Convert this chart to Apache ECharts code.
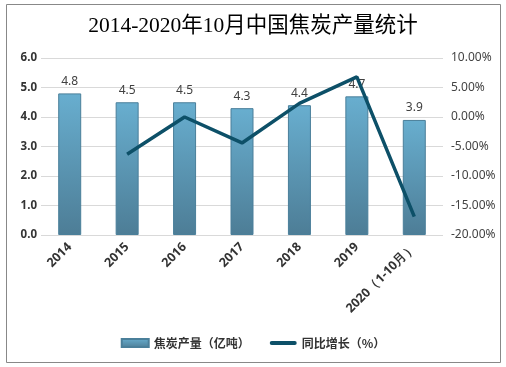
<!DOCTYPE html>
<html><head><meta charset="utf-8">
<script src="https://cdn.jsdelivr.net/npm/echarts@6/dist/echarts.min.js"></script>
<style>html,body{margin:0;padding:0;background:#fff}#c{width:506px;height:367px}</style>
</head><body><div id="c"></div>
<script>
var categories = ['2014','2015','2016','2017','2018','2019','2020（1-10月）'];
var production = [4.8, 4.5, 4.5, 4.3, 4.4, 4.7, 3.9];
var growth = [null, -6.3, 0.0, -4.4, 2.3, 6.8, -16.9];
var leftTicks = ['0.0','1.0','2.0','3.0','4.0','5.0','6.0'];

var chart = echarts.init(document.getElementById('c'));
chart.setOption({
  animation: false,
  backgroundColor: '#fff',
  title: {
    text: '2014-2020年10月中国焦炭产量统计',
    left: 'center', top: 11,
    textStyle: { fontFamily: '"Liberation Serif","Noto Sans CJK SC",serif', fontSize: 21.5, fontWeight: 'normal', color: '#000' }
  },
  graphic: [{ type: 'rect', shape: { x: 6.5, y: 4.5, width: 494, height: 358 }, style: { fill: 'none', stroke: '#888', lineWidth: 1 }, silent: true }],
  grid: { left: 41, right: 63, top: 58, bottom: 132 },
  legend: {
    bottom: 13, left: 'center', itemWidth: 27, itemHeight: 8, itemGap: 20,
    textStyle: { fontFamily: '"Noto Sans CJK SC",sans-serif', fontSize: 12, fontWeight: 'bold', color: '#333' },
    data: [
      { name: '焦炭产量（亿吨）', icon: 'rect' },
      { name: '同比增长（%）', icon: 'path://M0,4 L0,4 Q0,2 2,2 L25,2 Q27,2 27,4 Q27,6 25,6 L2,6 Q0,6 0,4 Z' }
    ]
  },
  xAxis: {
    type: 'category', data: categories,
    axisLine: { show: false }, axisTick: { show: false },
    axisLabel: { rotate: 45, interval: 0, margin: 10, fontFamily: '"Noto Sans","DejaVu Sans",sans-serif', fontSize: 12.5, fontWeight: 'bold', color: '#333' }
  },
  yAxis: [{
    type: 'value', min: 0, max: 6, interval: 1,
    axisLabel: { formatter: function(v){ return leftTicks[Math.round(v)]; }, fontFamily: '"Noto Sans","DejaVu Sans",sans-serif', fontSize: 11.5, fontWeight: 'bold', color: '#333', margin: 4 },
    splitLine: { lineStyle: { color: '#d9d9d9', width: 1 } },
    axisLine: { show: false }, axisTick: { show: false }
  }, {
    type: 'value', min: -20, max: 10, interval: 5,
    axisLabel: { formatter: function(v){ return v.toFixed(2) + '%'; }, fontFamily: '"Noto Sans","DejaVu Sans",sans-serif', fontSize: 12, color: '#444', margin: 8 },
    splitLine: { show: false }, axisLine: { show: false }, axisTick: { show: false }
  }],
  series: [{
    name: '焦炭产量（亿吨）', type: 'bar', data: production, barWidth: 23, z: 2,
    itemStyle: {
      color: new echarts.graphic.LinearGradient(0, 0, 0, 1, [{ offset: 0, color: '#68aecf' }, { offset: 1, color: '#4d7d96' }]),
      borderColor: '#4a7f9a', borderWidth: 1
    },
    label: { show: true, position: 'top', distance: 6, formatter: function(p){ return p.value.toFixed(1); }, fontFamily: '"Noto Sans","DejaVu Sans",sans-serif', fontSize: 12, color: '#404040' }
  }, {
    name: '同比增长（%）', type: 'line', yAxisIndex: 1, data: growth, z: 5,
    symbol: 'none', lineStyle: { color: '#0d5068', width: 3.5 }, itemStyle: { color: '#0d5068' }
  }]
});
</script></body></html>
